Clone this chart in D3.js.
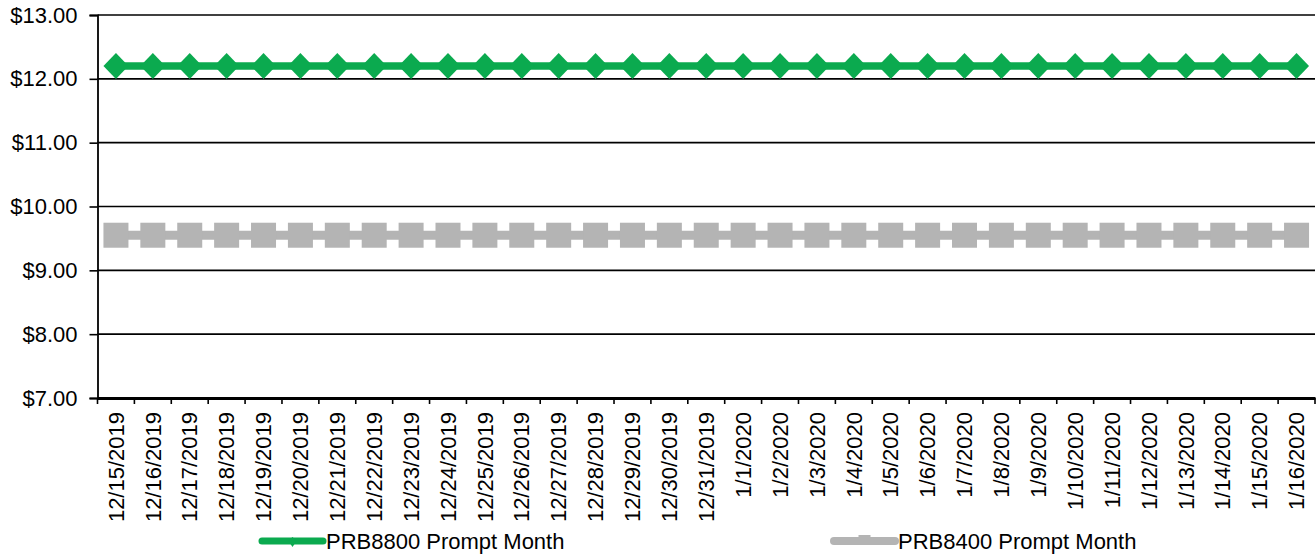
<!DOCTYPE html>
<html><head><meta charset="utf-8">
<script src="https://cdn.jsdelivr.net/npm/d3@7"></script>
<style>
html,body{margin:0;padding:0;background:#fff;}
svg{display:block;font-family:"Liberation Sans",Arial,sans-serif;}
</style></head>
<body>
<svg id="chart" width="1316" height="555"></svg>
<script>
const categories = ["12/15/2019","12/16/2019","12/17/2019","12/18/2019","12/19/2019","12/20/2019","12/21/2019","12/22/2019","12/23/2019","12/24/2019","12/25/2019","12/26/2019","12/27/2019","12/28/2019","12/29/2019","12/30/2019","12/31/2019","1/1/2020","1/2/2020","1/3/2020","1/4/2020","1/5/2020","1/6/2020","1/7/2020","1/8/2020","1/9/2020","1/10/2020","1/11/2020","1/12/2020","1/13/2020","1/14/2020","1/15/2020","1/16/2020"];
const prb8800 = [12.2,12.2,12.2,12.2,12.2,12.2,12.2,12.2,12.2,12.2,12.2,12.2,12.2,12.2,12.2,12.2,12.2,12.2,12.2,12.2,12.2,12.2,12.2,12.2,12.2,12.2,12.2,12.2,12.2,12.2,12.2,12.2,12.2];
const prb8400 = [9.55,9.55,9.55,9.55,9.55,9.55,9.55,9.55,9.55,9.55,9.55,9.55,9.55,9.55,9.55,9.55,9.55,9.55,9.55,9.55,9.55,9.55,9.55,9.55,9.55,9.55,9.55,9.55,9.55,9.55,9.55,9.55,9.55];
const yTicks = [7,8,9,10,11,12,13];
const seriesNames = ["PRB8800 Prompt Month","PRB8400 Prompt Month"];
const colors = ["#0BAA4F","#B4B4B4"];

(function(){
const svg = d3.select("#chart");
const mLeft = 97.5, mRight = 1315, mTop = 15, mBottom = 398;
const x = d3.scaleBand().domain(categories).range([mLeft, mRight]);
const y = d3.scaleLinear().domain([7,13]).range([mBottom, mTop]);
const fs = 22;

// gridlines
svg.append("g").selectAll("line").data(yTicks.filter(d=>d!==7)).join("line")
  .attr("x1", mLeft).attr("x2", mRight)
  .attr("y1", d=>y(d)).attr("y2", d=>y(d))
  .attr("stroke","#000").attr("stroke-width",1.6);

// y axis
const yAxis = svg.append("g").attr("transform",`translate(${mLeft},0)`)
  .call(d3.axisLeft(y).tickValues(yTicks).tickSize(8).tickPadding(12).tickFormat(d=>"$"+d3.format(".2f")(d)));
yAxis.select(".domain").attr("stroke","#000").attr("stroke-width",1.8);
yAxis.selectAll(".tick line").attr("stroke","#000").attr("stroke-width",1.6);
yAxis.selectAll("text").attr("font-size",fs).attr("fill","#000").style("font-family","Liberation Sans, Arial, sans-serif");

// x axis
const xAxis = svg.append("g").attr("transform",`translate(0,${mBottom})`)
  .call(d3.axisBottom(x).tickSize(0).tickSizeOuter(0));
xAxis.select(".domain").attr("stroke","#000").attr("stroke-width",3);
xAxis.selectAll(".tick text")
  .attr("font-size",fs).attr("fill","#000").style("font-family","Liberation Sans, Arial, sans-serif")
  .attr("transform","rotate(-90)")
  .attr("text-anchor","end")
  .attr("x",-14).attr("y",0).attr("dy","0.35em");
// boundary tick marks
const bounds = categories.map(c=>x(c)).concat([mRight]);
svg.append("g").selectAll("line").data(bounds).join("line")
  .attr("x1",d=>d).attr("x2",d=>d).attr("y1",mBottom).attr("y2",mBottom+6)
  .attr("stroke","#000").attr("stroke-width",1.6);

const cx = d => x(d) + x.bandwidth()/2;

// PRB8400 (gray) series
const line = d3.line().x((d,i)=>cx(categories[i])).y(d=>y(d));
svg.append("path").datum(prb8400).attr("d",line)
  .attr("fill","none").attr("stroke",colors[1]).attr("stroke-width",9);
svg.append("g").selectAll("rect").data(prb8400).join("rect")
  .attr("x",(d,i)=>cx(categories[i])-12.5).attr("y",d=>y(d)-12.5)
  .attr("width",25).attr("height",25).attr("fill",colors[1]);

// PRB8800 (green) series
svg.append("path").datum(prb8800).attr("d",line)
  .attr("fill","none").attr("stroke",colors[0]).attr("stroke-width",7.5);
svg.append("g").selectAll("path.dia").data(prb8800).join("path")
  .attr("class","dia")
  .attr("d",(d,i)=>{const X=cx(categories[i]),Y=y(d);return `M${X},${Y-13}L${X+12.5},${Y}L${X},${Y+13}L${X-12.5},${Y}Z`;})
  .attr("fill",colors[0]);

// legend
const legend = [
  {name:seriesNames[0], color:colors[0], x1:262, x2:323, tx:326, w:7, marker:"dia"},
  {name:seriesNames[1], color:colors[1], x1:834, x2:895, tx:898, w:8, marker:"sq"}
];
const ly = 541;
legend.forEach(l=>{
  svg.append("line").attr("x1",l.x1).attr("x2",l.x2).attr("y1",ly).attr("y2",ly)
    .attr("stroke",l.color).attr("stroke-width",l.w).attr("stroke-linecap","round");
  const mx=(l.x1+l.x2)/2;
  if(l.marker==="dia"){
    svg.append("path").attr("d",`M${mx},${ly-4}L${mx+4},${ly}L${mx},${ly+6}L${mx-4},${ly}Z`).attr("fill",l.color);
  } else {
    svg.append("rect").attr("x",mx-6).attr("y",ly-6).attr("width",12).attr("height",10).attr("fill",l.color);
  }
  svg.append("text").attr("x",l.tx).attr("y",ly).attr("dy","0.35em")
    .attr("font-size",fs).attr("fill","#000").text(l.name);
});
})();
</script>
</body></html>
